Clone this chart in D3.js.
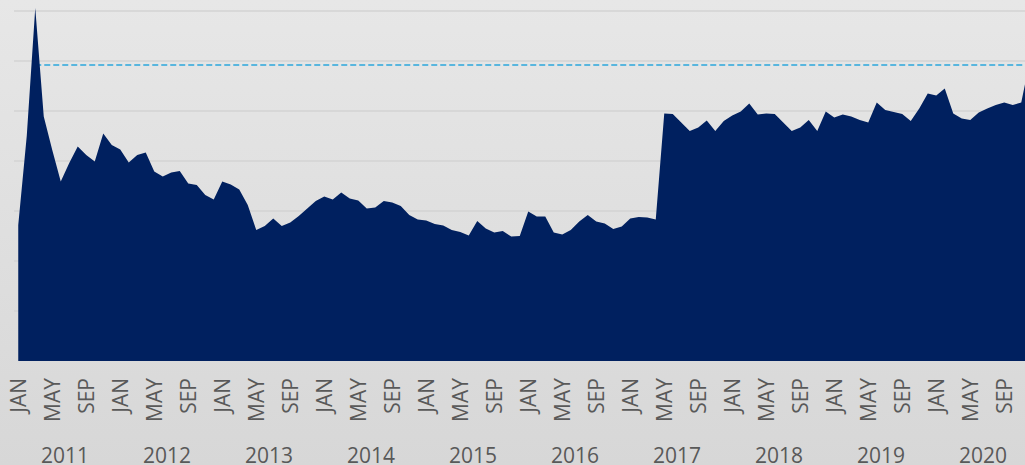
<!DOCTYPE html>
<html>
<head>
<meta charset="utf-8">
<script src="https://cdn.jsdelivr.net/npm/d3@7"></script>
<style>
	html, body { margin: 0; padding: 0; overflow: hidden; background: #dfdfdf; }
	svg { display: block; }
	text { font-family: "Open Sans", sans-serif; fill: #595959; }
</style>
</head>
<body>
<div id="chart"></div>
<script>
var years = [2011, 2012, 2013, 2014, 2015, 2016, 2017, 2018, 2019, 2020];
var monthNames = ["JAN", "FEB", "MAR", "APR", "MAY", "JUN", "JUL", "AUG", "SEP", "OCT", "NOV", "DEC"];
var shownMonths = ["JAN", "MAY", "SEP"];

// monthly values, Jan 2011 .. Dec 2020
var values = [
	27.2, 45.0, 70.6, 48.9, 42.2, 35.9, 39.6, 42.9, 41.2, 39.9, 45.5, 43.2,
	42.3, 39.7, 41.2, 41.7, 37.9, 36.9, 37.7, 38.0, 35.5, 35.2, 33.2, 32.3,
	35.9, 35.3, 34.3, 31.2, 26.2, 27.0, 28.5, 27.0, 27.7, 29.0, 30.5, 32.0,
	32.9, 32.3, 33.7, 32.5, 32.1, 30.5, 30.7, 32.0, 31.7, 31.0, 29.2, 28.3,
	28.1, 27.4, 27.1, 26.2, 25.8, 25.1, 28.0, 26.5, 25.7, 26.0, 24.9, 25.0,
	29.9, 28.9, 28.9, 25.7, 25.3, 26.2, 27.9, 29.2, 27.9, 27.5, 26.4, 26.9,
	28.5, 28.8, 28.7, 28.3, 49.5, 49.4, 47.7, 46.0, 46.7, 48.1, 46.0, 48.0,
	49.1, 49.9, 51.5, 49.3, 49.5, 49.4, 47.7, 46.0, 46.7, 48.2, 46.0, 49.9,
	48.7, 49.3, 48.9, 48.2, 47.7, 51.7, 50.2, 49.8, 49.4, 48.0, 50.5, 53.5,
	53.1, 54.5, 49.5, 48.5, 48.2, 49.7, 50.5, 51.2, 51.7, 51.2, 51.7, 60.0
];

var targetValue = 59.2;
var targetFrom = 2; // dashed target starts at MAR 2011
var gridValues = [10, 20, 30, 40, 50, 60, 70];

var width = 1025,
	height = 465,
	margin = { top: 11, left: 14, bottom: 104 },
	step = 8.5,
	plotH = height - margin.top - margin.bottom;

var svg = d3.select("#chart").append("svg")
	.attr("width", width)
	.attr("height", height);

var defs = svg.append("defs");
var grad = defs.append("linearGradient")
	.attr("id", "bg")
	.attr("x1", 0).attr("y1", 0).attr("x2", 0).attr("y2", 1);
grad.append("stop").attr("offset", "0%").attr("stop-color", "#e7e7e7");
grad.append("stop").attr("offset", "100%").attr("stop-color", "#d7d7d7");

svg.append("rect")
	.attr("width", width)
	.attr("height", height)
	.attr("fill", "url(#bg)");

var x = d3.scaleBand()
	.domain(d3.range(values.length))
	.range([margin.left, margin.left + step * values.length]);

var cx = function(i) { return x(i) + x.bandwidth() / 2; };

var y = d3.scaleLinear()
	.domain([0, 70])
	.range([margin.top + plotH, margin.top]);

// gridlines
svg.append("g")
	.selectAll("line")
	.data(gridValues)
	.enter().append("line")
	.attr("x1", margin.left)
	.attr("x2", width)
	.attr("y1", function(d) { return y(d); })
	.attr("y2", function(d) { return y(d); })
	.attr("stroke", "#d3d3d3")
	.attr("stroke-width", 1.6);

// target line, sits behind the area
svg.append("line")
	.attr("x1", cx(targetFrom))
	.attr("x2", width)
	.attr("y1", y(targetValue))
	.attr("y2", y(targetValue))
	.attr("stroke", "#2ba6dc")
	.attr("stroke-width", 1.3)
	.attr("stroke-dasharray", "6,3");

var area = d3.area()
	.x(function(d, i) { return cx(i); })
	.y0(y(0))
	.y1(function(d) { return y(d); });

svg.append("path")
	.datum(values)
	.attr("d", area)
	.attr("fill", "#00205f");

// month labels
var monthTicks = d3.range(values.length).filter(function(i) {
	return shownMonths.indexOf(monthNames[i % 12]) >= 0;
});

svg.append("g")
	.selectAll("text")
	.data(monthTicks)
	.enter().append("text")
	.attr("transform", function(i) { return "translate(" + cx(i) + ",378) rotate(-90)"; })
	.attr("dy", "0.36em")
	.style("text-anchor", "end")
	.style("font-size", "21px")
	.text(function(i) { return monthNames[i % 12]; });

// year labels
svg.append("g")
	.selectAll("text")
	.data(years)
	.enter().append("text")
	.attr("x", function(d, k) { return (cx(k * 12) + cx(k * 12 + 11)) / 2; })
	.attr("y", 463)
	.style("text-anchor", "middle")
	.style("font-size", "21px")
	.text(function(d) { return d; });
</script>
</body>
</html>
